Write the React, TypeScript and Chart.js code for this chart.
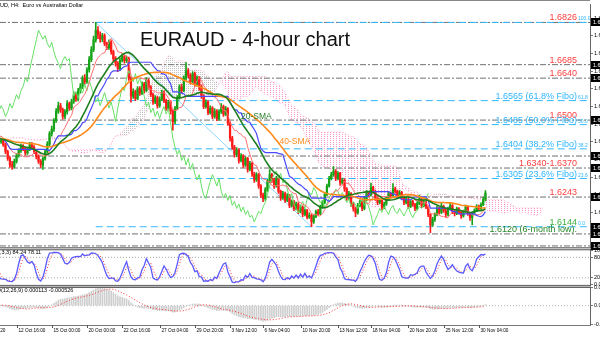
import { useEffect, useRef } from "react";
import { Chart, registerables } from "chart.js";
Chart.register(...registerables);

const FONT = '"Liberation Sans", Arial, Helvetica, sans-serif';
// prices are stored as pips above 1.6000
const BASE = 1.6;
const PIP = 0.0001;
const N_SLOTS = 268;
const FIRST_OPEN = 425;

// bars before the visible window (needed by the moving averages / Ichimoku)
const PRE_CLOSE = [430,445,452,440,428,418,425,437,450,462,458,447,439,426,415,408,419,431,444,452,446,435,428,440,455,463,451,442,436,428];
const PRE_HIGH = [436,452,460,457,445,432,429,442,456,470,466,462,452,443,430,420,423,437,450,458,455,449,438,446,461,470,466,456,447,440];
const PRE_LOW = [420,426,440,435,424,412,414,421,433,446,452,443,433,421,410,402,404,414,428,440,441,430,422,424,437,450,447,438,430,422];

// visible H4 bars
const CLOSE = [
  432,418,395,372,350,345,362,381,398,412,
  405,390,402,418,410,395,378,362,350,372,
  395,420,455,470,498,530,548,535,512,528,
  555,540,562,585,570,598,612,640,628,668,
  702,735,768,800,785,770,782,755,742,760,
  728,705,690,672,700,712,698,705,640,580,
  595,572,605,590,620,598,632,610,585,560,
  575,548,570,592,565,540,560,530,495,540,
  575,610,598,640,665,650,628,655,620,640,
  612,580,545,560,525,540,512,530,505,528,
  545,520,538,490,440,410,385,400,365,380,
  350,372,335,355,320,300,318,280,250,238,
  268,295,318,300,280,305,262,240,255,232,
  248,215,228,205,220,195,210,185,198,176,
  182,160,178,195,188,210,225,252,280,305,
  318,330,305,322,290,300,270,240,255,220,
  205,190,215,228,205,235,258,250,275,262,
  240,225,232,208,220,238,255,248,270,262,
  245,258,240,225,236,212,228,218,205,222,
  236,215,228,210,185,150,168,185,205,192,
  212,198,185,205,215,195,188,205,192,180,
  195,210,188,175,190,198,212,205,218,235,
  256
];
const HIGH = [
  440,437,422,400,378,362,370,388,405,420,
  418,410,409,426,425,415,400,384,368,378,
  401,428,462,480,505,538,560,556,540,535,
  565,560,570,594,592,606,622,648,652,675,
  712,745,780,826,812,795,790,788,760,768,
  765,734,712,695,708,722,718,714,710,645,
  604,600,612,612,628,626,642,638,615,590,
  582,580,578,600,598,570,566,565,535,546,
  582,618,620,648,692,672,655,662,660,648,
  645,618,585,568,565,548,545,538,535,535,
  555,550,546,542,495,446,416,408,405,388,
  385,378,376,362,360,326,325,322,285,256,
  275,302,335,322,306,312,310,266,262,260,
  255,252,234,232,226,225,216,214,204,202,
  190,186,184,200,202,216,232,258,286,312,
  326,345,335,328,326,306,304,275,262,258,
  225,210,222,234,232,242,265,262,290,280,
  266,245,238,236,226,244,262,260,288,276,
  266,265,262,245,242,240,234,232,222,228,
  250,240,234,232,214,188,175,190,212,210,
  225,216,202,210,222,218,200,210,208,196,
  200,216,214,192,195,204,218,216,224,242,
  265
];
const LOW = [
  422,412,388,365,342,335,340,356,376,392,
  398,383,385,398,404,388,370,355,342,335,
  366,390,415,446,462,492,522,526,503,505,
  520,532,534,556,562,564,590,605,620,622,
  660,695,728,760,772,760,762,748,735,736,
  720,696,680,662,666,694,690,692,632,560,
  572,565,568,582,585,590,594,602,578,552,
  555,540,542,565,558,532,534,520,466,488,
  535,570,590,595,635,642,620,622,612,614,
  600,572,538,540,518,520,505,506,498,500,
  522,512,515,482,430,402,376,378,356,360,
  342,345,326,330,312,292,295,272,242,228,
  232,262,290,292,272,276,255,232,235,225,
  228,208,210,198,200,188,190,178,180,170,
  172,144,155,174,182,184,205,220,248,276,
  300,312,298,300,282,285,262,232,235,212,
  196,178,186,210,198,200,230,244,246,255,
  232,218,220,200,204,215,234,242,245,256,
  238,240,234,218,220,205,208,212,198,200,
  218,208,210,204,178,124,145,162,180,186,
  188,192,178,180,200,188,180,184,186,172,
  176,190,182,165,150,185,194,198,200,214,
  230
];

const MAIN_TICKS = [1.6840,1.6781,1.6722,1.6663,1.6604,1.6545,1.6486,1.6427,1.6368,1.6309,1.6250,1.6191,1.6132];
const STOCH_TICKS = [0, 20, 80, 100];
const STOCH_LEVELS = [20, 80];

const DATE_TICKS = [-9,7,23,39,55,72,88,104,119,136,153,168,185,201,217];
const DATE_LABELS = ["8 Oct 2020","12 Oct 16:00","15 Oct 00:00","20 Oct 00:00","22 Oct 16:00","27 Oct 04:00","29 Oct 20:00","3 Nov 12:00","6 Nov 04:00","10 Nov 20:00","13 Nov 12:00","18 Nov 04:00","20 Nov 20:00","25 Nov 12:00","30 Nov 04:00"];

const HLINES = [1.6826,1.6685,1.6640,1.6500,1.6380,1.6340,1.6243,1.6120,1.6080];
const FIB_VALUES = [1.6826,1.6565,1.6485,1.6404,1.6305,1.6144];
const FIB_TAGS = ["100.0","61.8","50.0","38.2","23.6","0.0"];
const FIB_FROM = 43;
const FIB_TO = 141;

const NOTE_TEXTS = ["1.6826","1.6685","1.6640","1.6565 (61.8% Fibo)","1.6500","1.6485 (50.0% Fibo)","1.6404 (38.2% Fibo)","1.6340-1.6370","1.6305 (23.6% Fibo)","1.6243","1.6144","1.6120 (6-month low)."];
const NOTE_VALUES = [1.6826,1.6685,1.6640,1.6565,1.6500,1.6485,1.6404,1.6340,1.6305,1.6243,1.6144,1.6120];
const NOTE_KINDS = ["r","r","r","f","r","f","f","r","f","r","g","d"];

const TITLE = "EURAUD - 4-hour chart";
const HEADER = "EURAUD, H4:  Euro vs Australian Dollar";
const STOCH_TEXT = "Stoch(5,3,3) 84.24 78.11";
const MACD_TEXT = "MACD(12,26,9) 0.000113 -0.000526";

export default function App() {
  const ref = useRef<HTMLCanvasElement>(null);

  useEffect(() => {
    const canvas = ref.current!;
    const ctx0 = canvas.getContext("2d")!;
    const C = [...PRE_CLOSE, ...CLOSE];
    const H = [...PRE_HIGH, ...HIGH];
    const L = [...PRE_LOW, ...LOW];
    const n = C.length;
    const off = PRE_CLOSE.length;
    const O = C.map((_, j) => (j === 0 ? FIRST_OPEN : C[j - 1]));
    const px = (p: number) => BASE + p * PIP;
    const xo = (j: number) => j - off;
    const hh = (j: number, len: number) => { let m = -Infinity; for (let k = Math.max(0, j - len + 1); k <= j; k++) m = Math.max(m, H[k]); return m; };
    const ll = (j: number, len: number) => { let m = Infinity; for (let k = Math.max(0, j - len + 1); k <= j; k++) m = Math.min(m, L[k]); return m; };
    const sma = (arr: number[], j: number, len: number) => { let s = 0, c = 0; for (let k = Math.max(0, j - len + 1); k <= j; k++) { s += arr[k]; c++; } return s / c; };

    const BULL = "#17a317", BEAR = "#ff1a1a";
    const cols = C.map((c, j) => (c >= O[j] ? BULL : BEAR));
    const wick = C.map((_, j) => ({ x: xo(j), y: [px(L[j]), px(H[j])] }));
    const body = C.map((c, j) => ({ x: xo(j), y: [px(O[j]), px(c)] }));

    const sma20 = C.map((_, j) => ({ x: xo(j), y: px(sma(C, j, 20)) }));
    const sma40 = C.map((_, j) => ({ x: xo(j), y: px(sma(C, j, 40)) }));
    const tenkan = C.map((_, j) => ({ x: xo(j), y: px((hh(j, 9) + ll(j, 9)) / 2) }));
    const kijun = C.map((_, j) => ({ x: xo(j), y: px((hh(j, 26) + ll(j, 26)) / 2) }));
    const spanA = C.map((_, j) => ({ x: xo(j) + 26, y: px(((hh(j, 9) + ll(j, 9)) / 2 + (hh(j, 26) + ll(j, 26)) / 2) / 2) }));
    const spanB = C.map((_, j) => ({ x: xo(j) + 26, y: px((hh(j, 52) + ll(j, 52)) / 2) }));
    const chikou = C.map((c, j) => ({ x: xo(j) - 26, y: px(c) }));

    // Stochastic 5,3,3
    const K: (number | null)[] = new Array(n).fill(null);
    const D: (number | null)[] = new Array(n).fill(null);
    for (let j = 6; j < n; j++) {
      let num = 0, den = 0;
      for (let k = j - 2; k <= j; k++) { const h = hh(k, 5), l = ll(k, 5); num += C[k] - l; den += h - l; }
      K[j] = den ? (100 * num) / den : 50;
    }
    for (let j = 8; j < n; j++) D[j] = ((K[j] as number) + (K[j - 1] as number) + (K[j - 2] as number)) / 3;
    const stK = K.map((v, j) => ({ x: xo(j), y: v }));
    const stD = D.map((v, j) => ({ x: xo(j), y: v }));

    // MACD 12,26,9
    let e12 = C[0], e26 = C[0];
    const M: number[] = [];
    const S: (number | null)[] = [];
    for (let j = 0; j < n; j++) {
      e12 = C[j] * (2 / 13) + e12 * (11 / 13);
      e26 = C[j] * (2 / 27) + e26 * (25 / 27);
      M.push((e12 - e26) * PIP);
      if (j >= 8) { let s = 0; for (let k = j - 8; k <= j; k++) s += M[k]; S.push(s / 9); } else S.push(null);
    }
    let A = 0;
    for (let j = off; j < n; j++) { A = Math.max(A, Math.abs(M[j]), Math.abs(S[j] ?? 0)); }
    A *= 1.08;
    const macdH = M.map((v, j) => ({ x: xo(j), y: v }));
    const macdS = S.map((v, j) => ({ x: xo(j), y: v }));

    const xMin = -0.5, xMax = N_SLOTS - 0.5;

    const dots = (color: string, w: number) => {
      const c = document.createElement("canvas");
      c.width = w; c.height = 2;
      const g = c.getContext("2d")!;
      g.fillStyle = color; g.fillRect(0, 0, 1, 1);
      return ctx0.createPattern(c, "repeat")!;
    };
    const pink = dots("rgb(255,150,200)", 3);
    const grey = dots("rgb(195,195,195)", 2);

    const line = (data: any[], color: string, width: number, order: number, extra: any = {}) => ({
      type: "line", data, borderColor: color, borderWidth: width, pointRadius: 0, tension: 0, order, fill: false, yAxisID: "y", ...extra,
    });

    const datasets: any[] = [];
    datasets.push(line(spanA, "rgba(255,150,195,0.7)", 1, 30, { borderDash: [1, 2], fill: { target: "+1", above: grey, below: pink } }));
    datasets.push(line(spanB, "rgba(255,150,195,0.7)", 1, 31, { borderDash: [1, 2] }));
    HLINES.forEach((v) => datasets.push(line([{ x: xMin, y: v }, { x: xMax, y: v }], "#707070", 1, 25, { borderDash: [6, 2, 2, 2] })));
    FIB_VALUES.forEach((v) => datasets.push(line([{ x: FIB_FROM, y: v }, { x: xMax, y: v }], "#33b8ff", 1, 24, { borderDash: [7, 4] })));
    datasets.push(line([{ x: FIB_FROM, y: FIB_VALUES[0] }, { x: FIB_TO, y: FIB_VALUES[FIB_VALUES.length - 1] }], "#8fd6ff", 1, 24));
    datasets.push({ type: "bar", data: wick, backgroundColor: cols, barThickness: 1, grouped: false, order: 12, yAxisID: "y" });
    datasets.push({ type: "bar", data: body, backgroundColor: cols, barThickness: 1.6, grouped: false, order: 11, yAxisID: "y" });
    datasets.push(line(chikou, "#66e066", 1, 6));
    datasets.push(line(tenkan, "#ff7070", 1, 5));
    datasets.push(line(kijun, "#4a4aff", 1.2, 4));
    datasets.push(line(sma40, "#ff8a1a", 1.6, 3));
    datasets.push(line(sma20, "#1f7f1f", 1.6, 2));
    // stochastic pane
    STOCH_LEVELS.forEach((v) => datasets.push(line([{ x: xMin, y: v }, { x: xMax, y: v }], "#a8a8a8", 1, 9, { borderDash: [1, 2], yAxisID: "ys" })));
    datasets.push(line(stD, "#ff3030", 1, 3, { borderDash: [1, 2], yAxisID: "ys" }));
    datasets.push(line(stK, "#5a5aff", 1.3, 2, { yAxisID: "ys" }));
    // MACD pane
    datasets.push(line([{ x: xMin, y: 0 }, { x: xMax, y: 0 }], "#b0b0b0", 1, 9, { borderDash: [1, 2], yAxisID: "ym" }));
    datasets.push({ type: "bar", data: macdH, backgroundColor: "#cfcfcf", barThickness: 1, grouped: false, order: 8, yAxisID: "ym" });
    datasets.push(line(macdS, "#ff3030", 1, 3, { borderDash: [1, 2], yAxisID: "ym" }));

    const axis = (weight: number, min: number, max: number, ticks: number[], fmt: (v: number) => string) => ({
      type: "linear", position: "right", stack: "panes", stackWeight: weight, min, max, offset: false,
      grid: { drawOnChartArea: false, drawTicks: true, tickLength: 3, color: "#777" },
      border: { display: true, color: "#666", width: 1 },
      ticks: { font: { size: 5.5, family: FONT }, color: "#000", padding: 1, autoSkip: false, maxRotation: 0, callback: (v: any) => fmt(Number(v)) },
      afterBuildTicks: (s: any) => { s.ticks = ticks.map((v) => ({ value: v })); },
      afterFit: (s: any) => { s.width = 40; },
    });

    const kindColor: Record<string, string> = { r: "#ff4040", f: "#2fb5ff", g: "#3fae3f", d: "#2a862a" };

    const overlay = {
      id: "overlay",
      afterDatasetsDraw(chart: any) {
        const { ctx, chartArea, scales } = chart;
        const y = scales.y, x = scales.x;
        ctx.save();
        ctx.beginPath();
        ctx.rect(chartArea.left, chartArea.top, chartArea.right - chartArea.left, y.bottom - chartArea.top);
        ctx.clip();
        ctx.textBaseline = "alphabetic";
        NOTE_TEXTS.forEach((t, k) => {
          const yy = y.getPixelForValue(NOTE_VALUES[k]);
          ctx.font = `9px ${FONT}`;
          ctx.textAlign = "right";
          ctx.fillStyle = kindColor[NOTE_KINDS[k]];
          ctx.fillText(t, chartArea.right - 13, yy - 2);
        });
        ctx.font = `5px ${FONT}`;
        ctx.textAlign = "left";
        ctx.fillStyle = "#2fb5ff";
        FIB_TAGS.forEach((t, k) => ctx.fillText(t, chartArea.right - 12, y.getPixelForValue(FIB_VALUES[k]) - 2));
        ctx.font = `20px ${FONT}`;
        ctx.fillStyle = "#111";
        ctx.fillText(TITLE, 140, 46);
        ctx.font = `8.5px ${FONT}`;
        ctx.fillStyle = "#2a7d2a";
        ctx.fillText("20-SMA", x.getPixelForValue(109), y.getPixelForValue(1.6503));
        ctx.fillStyle = "#ff8a1a";
        ctx.fillText("40-SMA", x.getPixelForValue(126.5), y.getPixelForValue(1.6420));
        ctx.restore();
      },
      afterDraw(chart: any) {
        const { ctx, chartArea, scales } = chart;
        const y = scales.y, ys = scales.ys, ym = scales.ym, x = scales.x;
        const R = chartArea.right;
        ctx.save();
        ctx.fillStyle = "#888";
        ctx.fillRect(0, 0, R, 1);
        [ys.top, ym.top].forEach((t: number) => {
          ctx.fillStyle = "#555"; ctx.fillRect(0, t - 1.5, R + 1, 1);
          ctx.fillStyle = "#bbb"; ctx.fillRect(0, t - 0.5, R + 1, 1);
          ctx.fillStyle = "#555"; ctx.fillRect(0, t + 0.5, R + 1, 1);
        });
        ctx.fillStyle = "#777";
        ctx.fillRect(0, chartArea.bottom, R + 1, 1);
        ctx.font = `5.5px ${FONT}`;
        ctx.fillStyle = "#000";
        ctx.textAlign = "left";
        ctx.textBaseline = "middle";
        ctx.fillText(HEADER, -ctx.measureText("EURA").width, 5);
        ctx.fillText(STOCH_TEXT, -ctx.measureText("Stoch(5").width, ys.top + 4);
        ctx.fillText(MACD_TEXT, -ctx.measureText("MACD").width + 1, ym.top + 4);
        const tags = [...HLINES, FIB_VALUES[FIB_VALUES.length - 1]];
        tags.forEach((v) => {
          const yy = Math.round(y.getPixelForValue(v));
          ctx.fillStyle = "#000";
          ctx.fillRect(R + 1, yy - 4, 40, 8);
          ctx.fillStyle = "#fff";
          ctx.fillText(v.toFixed(4), R + 3, yy);
        });
        ctx.strokeStyle = "#555";
        ctx.lineWidth = 1;
        ctx.font = `4.7px ${FONT}`;
        DATE_TICKS.forEach((idx, k) => {
          const xx = Math.round(x.getPixelForValue(idx)) + 0.5;
          ctx.beginPath(); ctx.moveTo(xx, chartArea.bottom); ctx.lineTo(xx, chartArea.bottom + 3); ctx.stroke();
          ctx.fillStyle = "#000";
          ctx.fillText(DATE_LABELS[k], xx + 1, chartArea.bottom + 6);
        });
        ctx.restore();
      },
    };

    const chart = new Chart(canvas, {
      type: "bar",
      data: { datasets },
      options: {
        responsive: false,
        animation: false,
        devicePixelRatio: 1,
        layout: { padding: { top: 1, bottom: 12, left: 0, right: 0 } },
        plugins: { legend: { display: false }, tooltip: { enabled: false } },
        events: [],
        scales: {
          x: { type: "linear", min: xMin, max: xMax, display: false, offset: false },
          y: axis(247, 1.60704, 1.68865, MAIN_TICKS, (v) => v.toFixed(4)),
          ys: axis(38, -5, 105, STOCH_TICKS, (v) => (v === 100 ? "100" : v.toFixed(2))),
          ym: axis(39, -A, A, [A * 0.95, 0, -A * 0.95], (v) => v.toFixed(6)),
        },
      } as any,
      plugins: [overlay],
    } as any);
    return () => chart.destroy();
  }, []);

  return (
    <div style={{ position: "fixed", left: 0, top: 0, width: 600, height: 337, overflow: "hidden", background: "#fff" }}>
      <canvas ref={ref} width={630} height={337} style={{ display: "block" }} />
    </div>
  );
}
